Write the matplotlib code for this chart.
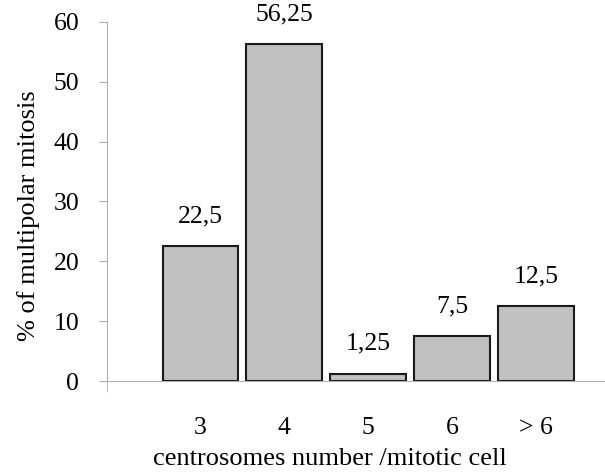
import numpy as np
import matplotlib.pyplot as plt

# Data
categories = ['3', '4', '5', '6', '> 6']
values = [22.5, 56.25, 1.25, 7.5, 12.5]
value_labels = ['22,5', '56,25', '1,25', '7,5', '12,5']

plt.rcParams['font.family'] = ['Liberation Serif', 'DejaVu Serif']

fig = plt.figure(figsize=(6.05, 4.73), dpi=100)
ax = fig.add_axes([0.177, 0.1945, 0.823, 0.759])

x = np.arange(len(categories))
bars = ax.bar(x, values, width=0.9, color='#c0c0c0', edgecolor='#1a1a1a', linewidth=1.5)

for xi, v, lab in zip(x, values, value_labels):
    ax.annotate(lab, (xi, v), xytext=(0, 13.5), textcoords='offset points',
                ha='center', va='bottom', fontsize=18.5)

ax.set_xlim(-1.11, 4.82)
ax.set_ylim(0, 60)
ax.set_yticks(np.arange(0, 61, 10))
ax.set_xticks(x)
ax.set_xticklabels(categories)
ax.set_xticks([-1.11], minor=True)

for s in ['top', 'right']:
    ax.spines[s].set_visible(False)
ax.spines['left'].set_color('#b0b0b0')
ax.spines['bottom'].set_color('#b0b0b0')

ax.tick_params(axis='y', direction='out', length=6, color='#b0b0b0', labelsize=18.5, pad=14)
ax.tick_params(axis='x', which='major', length=0, labelsize=18.5, pad=26)
ax.tick_params(axis='x', which='minor', direction='out', length=8, color='#b0b0b0')

ax.set_xlabel('centrosomes number /mitotic cell', fontsize=19)
ax.set_ylabel('% of multipolar mitosis', fontsize=19)
ax.xaxis.set_label_coords(0.448, -0.217, transform=ax.transAxes)
ax.yaxis.set_label_coords(-0.158, 0.46, transform=ax.transAxes)
ax.xaxis.label.set_va('center')
ax.yaxis.label.set_va('center')

fig.savefig('out.png', dpi=100)
